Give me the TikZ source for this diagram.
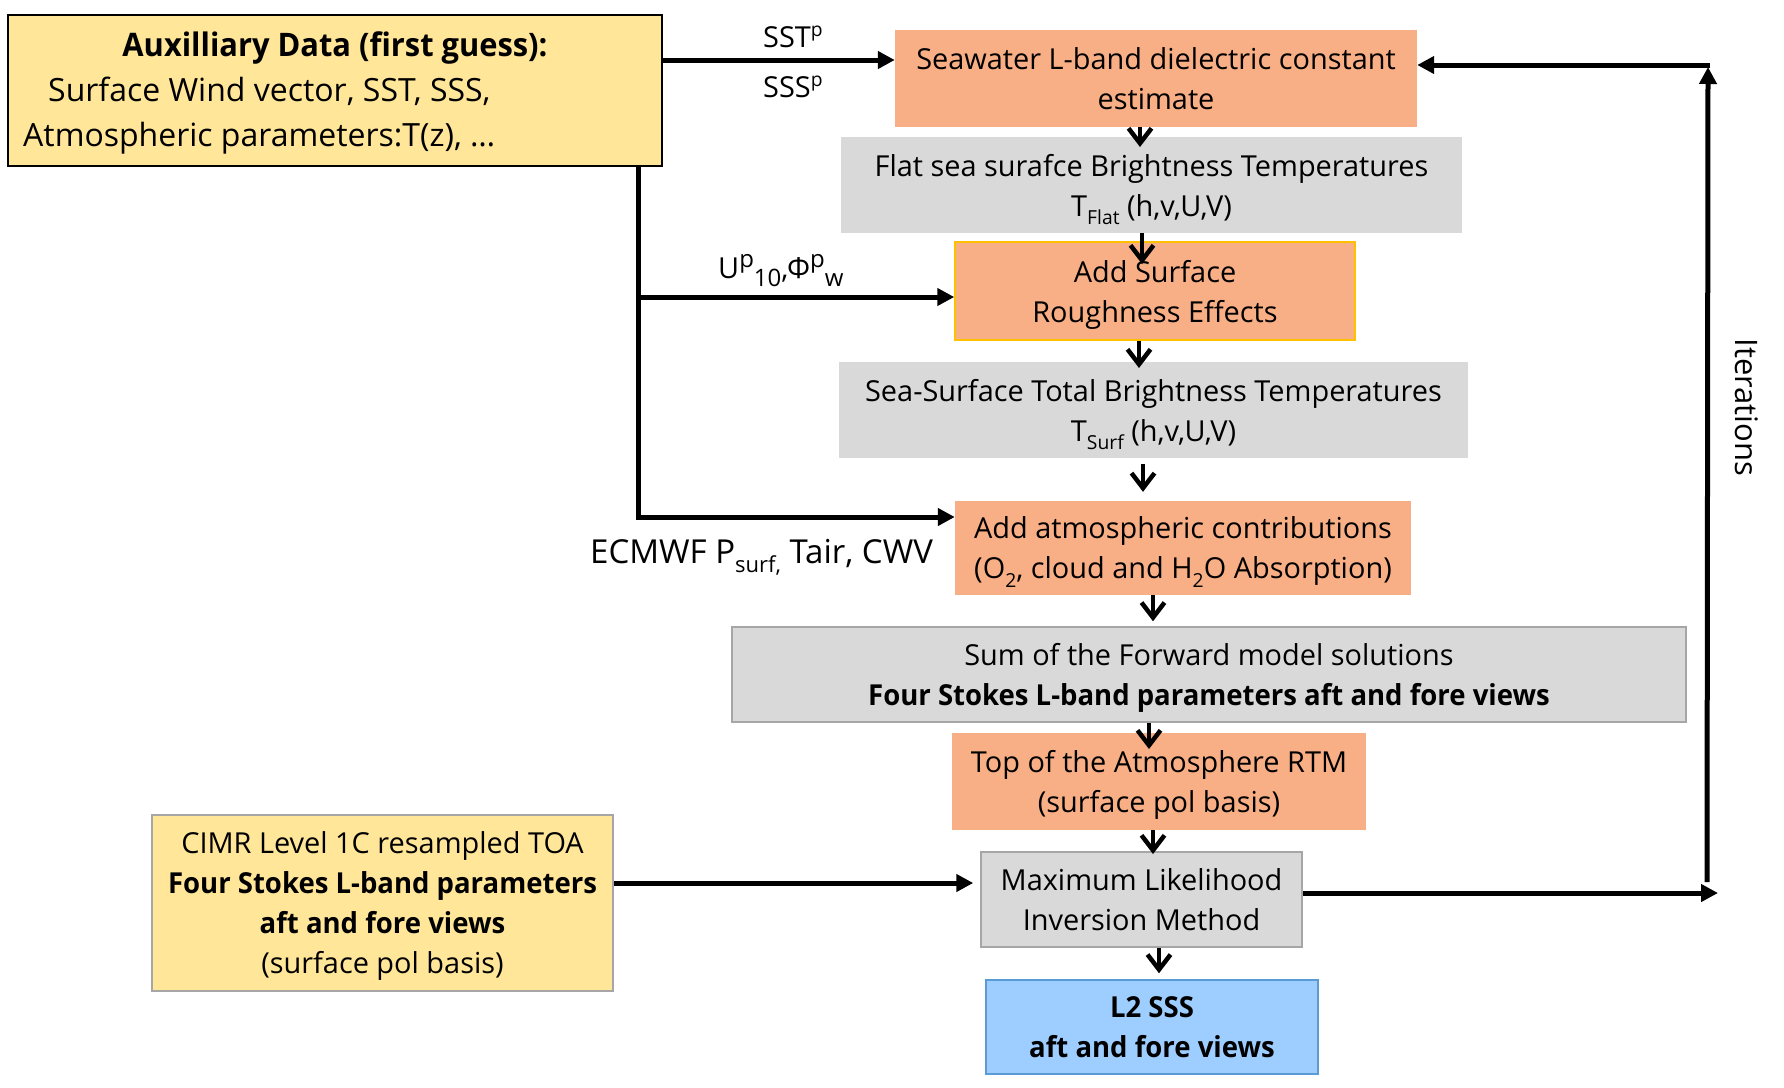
\documentclass[tikz,border=0pt]{standalone}
\usepackage{fontspec}
\setmainfont{Open Sans}[BoldFeatures={FakeStretch=0.952}]
\usetikzlibrary{arrows.meta}
\definecolor{ora}{HTML}{F9AF85}
\definecolor{gry}{HTML}{D9D9D9}
\definecolor{gryline}{HTML}{A6A6A6}
\definecolor{ylw}{HTML}{FFE699}
\definecolor{gold}{HTML}{FFC000}
\definecolor{blu}{HTML}{9ECEFF}
\definecolor{bluline}{HTML}{5B9BD5}
\newcommand\mysub[2][19.3]{\raisebox{-0.28em}{\fontsize{#1}{#1}\selectfont #2}}
\newcommand\mysup[2][19.3]{\raisebox{0.36em}{\fontsize{#1}{#1}\selectfont #2}}
\tikzset{
  every node/.style={font=\fontsize{28.9}{40}\selectfont, inner sep=0pt},
  box/.style={rectangle, align=center, text depth=0pt},
  obox/.style={box, fill=ora},
  gbox/.style={box, fill=gry},
  thk/.style={line width=5pt, -{Triangle[length=17pt,width=17pt]}},
  thn/.style={line width=3.5pt, -{Straight Barb[length=15pt,width=23pt,line width=4.5pt]}},
  lbl/.style={anchor=base west},
}
\begin{document}
\begin{tikzpicture}[x=1pt,y=-1pt]
\useasboundingbox (0,0) rectangle (1784,1087);
\fill[white] (0,0) rectangle (1784,1087);

% boxes
\node[box, fill=ylw, draw=black, line width=2pt, minimum width=654pt, minimum height=151pt] (aux) at (335,90.5) {};
\node[anchor=base, font=\fontsize{32.4}{40}\selectfont\bfseries] (auxt) at (335,56) {Auxilliary Data (first guess):};
\node[anchor=base west, font=\fontsize{32}{40}\selectfont] (auxa) at (48,101) {Surface Wind vector, SST, SSS,};
\node[anchor=base west, font=\fontsize{32}{40}\selectfont] (auxb) at (23,146) {Atmospheric parameters:T(z), …};

\node[obox, minimum width=522pt, minimum height=97pt] (sea) at (1156,78.5) {Seawater L-band dielectric constant\\estimate};
\node[gbox, minimum width=621pt, minimum height=96pt] (flat) at (1151.5,185) {Flat sea surafce Brightness Temperatures\\T\mysub{Flat} (h,v,U,V)};
\node[obox, draw=gold, line width=1.5pt, minimum width=400pt, minimum height=98pt] (rough) at (1155,291) {Add Surface\\Roughness Effects};
\node[gbox, minimum width=629pt, minimum height=96pt] (seasurf) at (1153.5,410) {Sea-Surface Total Brightness Temperatures\\T\mysub{Surf} (h,v,U,V)};
\node[obox, minimum width=456pt, minimum height=94pt] (atm) at (1183,548) {Add atmospheric contributions\\(O\mysub{2}, cloud and H\mysub{2}O Absorption)};
\node[gbox, draw=gryline, line width=1.5pt, minimum width=954pt, minimum height=95pt] (sum) at (1209,674.5) {Sum of the Forward model solutions\\\textbf{Four Stokes L-band parameters aft and fore views}};
\node[obox, minimum width=414pt, minimum height=97pt] (toa) at (1159,781.5) {Top of the Atmosphere RTM\\(surface pol basis)};
\node[box, fill=ylw, draw=gryline, line width=1.5pt, minimum width=461pt, minimum height=176pt] (cimr) at (382.5,903) {CIMR Level 1C resampled TOA\\\textbf{Four Stokes L-band parameters}\\\textbf{aft and fore views}\\(surface pol basis)};
\node[gbox, draw=gryline, line width=1.5pt, minimum width=321pt, minimum height=95pt] (ml) at (1141.5,899.5) {Maximum Likelihood\\Inversion Method};
\node[box, fill=blu, draw=bluline, line width=1.5pt, minimum width=332pt, minimum height=94pt] (l2) at (1152,1027) {\textbf{L2 SSS}\\\textbf{aft and fore views}};

% labels
\node[lbl] (lsst) at (763,47) {SST\mysup{p}};
\node[lbl] (lsss) at (763,97) {SSS\mysup{p}};
\node[lbl] (lwind) at (718,278) {U\mysup[24]{p}\mysub[24]{10},Φ\mysup[24]{p}\mysub[24]{w}};
\node[lbl, font=\fontsize{33}{40}\selectfont] (lecm) at (590,563) {ECMWF P\mysub[22]{surf,} Tair, CWV};
\node[rotate=-90, anchor=base, font=\fontsize{31}{31}\selectfont] (iter) at (1735,407.5) {Iterations};

% coordinates
\coordinate (ya) at (0,60);
\coordinate (t0) at (638,517);
\coordinate (t1) at (638,297);
\coordinate (yc) at (0,883);
\coordinate (rt) at (1718,893);
\coordinate (up0) at (1707,882);
\coordinate (up1) at (1708,67);
\coordinate (tp) at (1710,65);

% thick connectors
\draw[thk] (aux.east |- ya) -- (sea.west |- ya);
\draw[thk] (aux.south -| t0) |- (atm.west |- t0);
\draw[thk] (t1) -- (rough.west |- t1);
\draw[thk, shorten >=7pt] (cimr.east |- yc) -- (ml.west |- yc);
\draw[thk] (ml.east |- rt) -- (rt);
\draw[thk] (up0) -- (up1);
\draw[thk] (tp) -- (sea.east |- tp);

% thin down arrows
\coordinate (d1) at (1140,147);
\coordinate (d2) at (1142,264);
\coordinate (d3) at (1139,368);
\coordinate (d4) at (1143,0);
\coordinate (d5) at (1153,0);
\coordinate (d6) at (1149,749);
\coordinate (d7) at (1153,854);
\coordinate (d8) at (1159,0);
\draw[thn] (sea.south -| d1) -- (d1);
\draw[thn] (flat.south -| d2) -- (d2);
\draw[thn] (rough.south -| d3) -- (d3);
\draw[thn, shorten <=6pt, shorten >=9pt] (seasurf.south -| d4) -- (atm.north -| d4);
\draw[thn, shorten >=5pt] (atm.south -| d5) -- (sum.north -| d5);
\draw[thn] (sum.south -| d6) -- (d6);
\draw[thn] (toa.south -| d7) -- (d7);
\draw[thn, shorten >=6pt] (ml.south -| d8) -- (l2.north -| d8);
\end{tikzpicture}
\end{document}
